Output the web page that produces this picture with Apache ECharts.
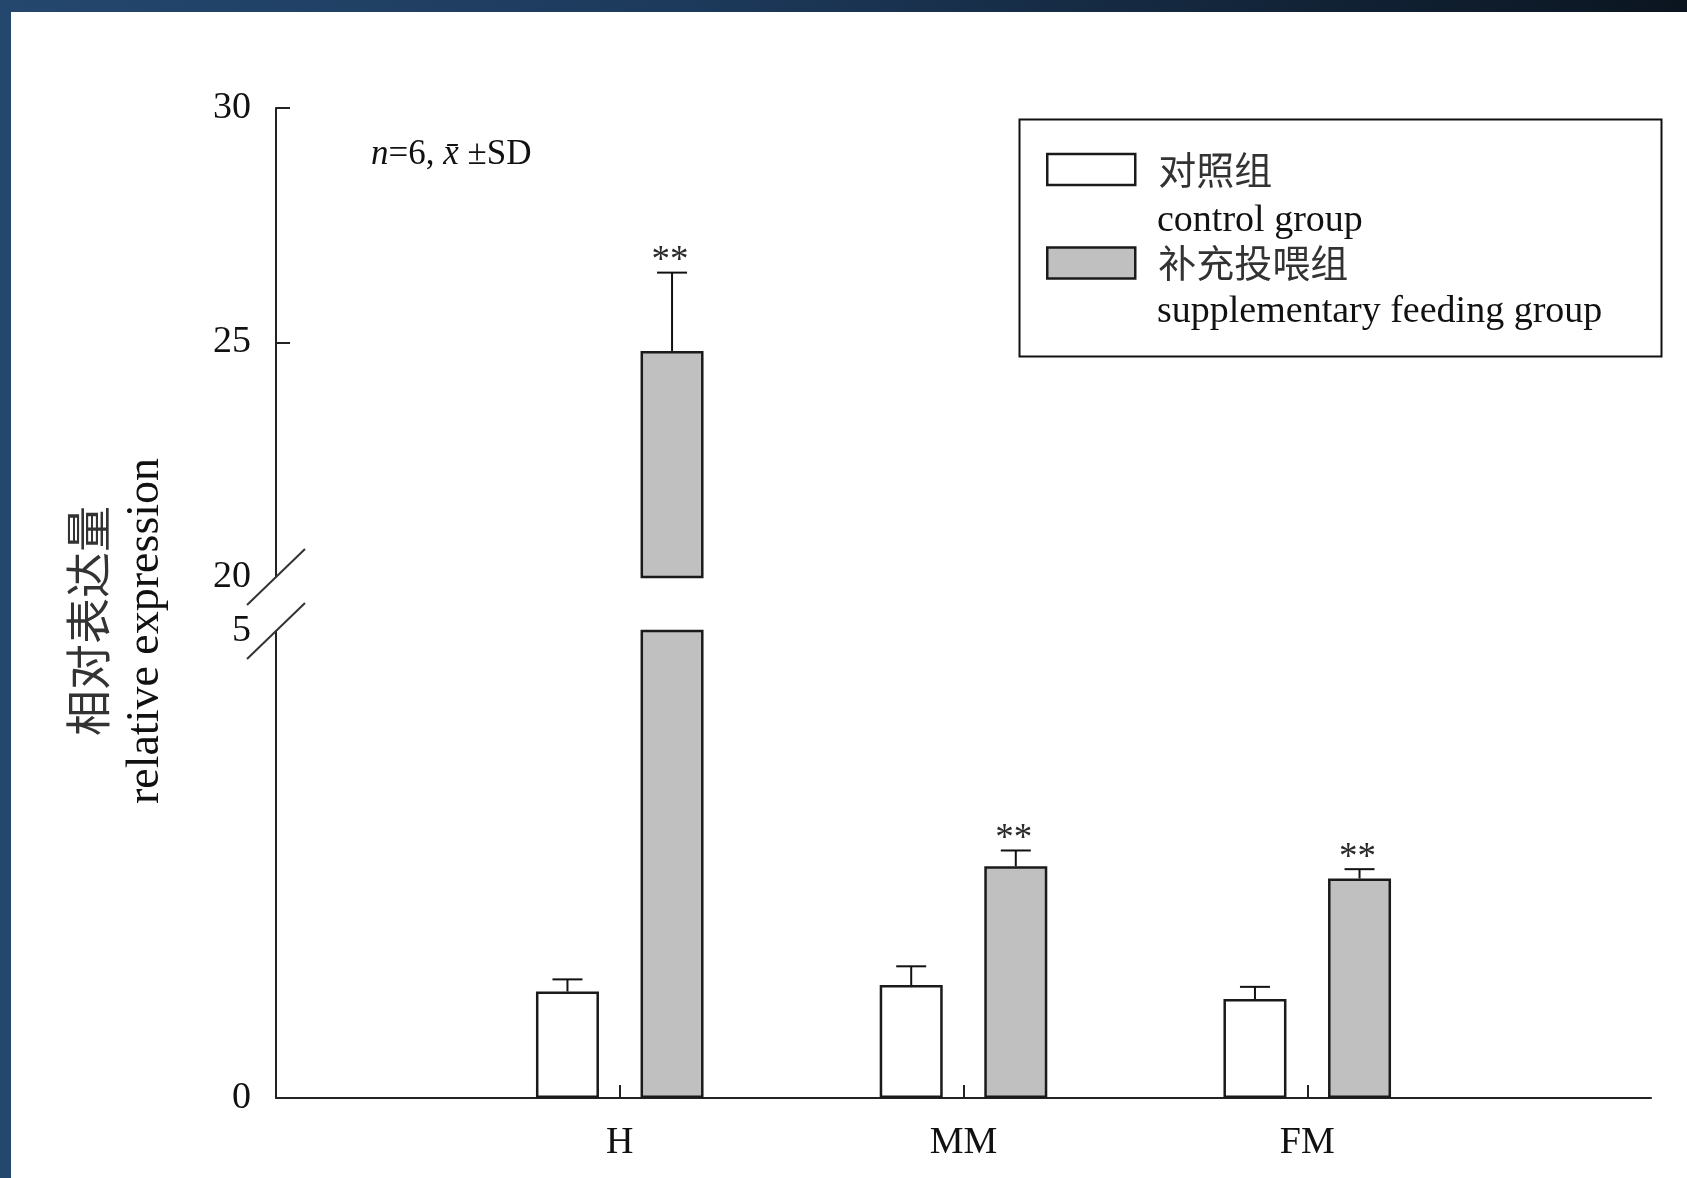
<!DOCTYPE html>
<html>
<head>
<meta charset="utf-8">
<script src="https://cdn.jsdelivr.net/npm/echarts@6/dist/echarts.min.js"></script>
<style>
html, body { margin: 0; padding: 0; background: #ffffff; }
#chart { position: absolute; left: 0; top: 0; width: 1687px; height: 1178px; }
#bandTop { position: absolute; left: 0; top: 0; width: 1687px; height: 12px; z-index: 2;
  background: linear-gradient(90deg, #24476e 0%, #1d3a5c 40%, #0b1520 100%); }
#bandLeft { position: absolute; left: 0; top: 0; width: 11px; height: 1178px; z-index: 3; background: #24476e; }
</style>
</head>
<body>
<div id="chart"></div>
<div id="bandTop"></div>
<div id="bandLeft"></div>
<script>
// ---- data ----
const categories = ['H', 'MM', 'FM'];
const controlMean = [1.14, 1.21, 1.06];
const controlSD = [0.13, 0.20, 0.13];
const feedingMean = [24.82, 2.48, 2.35];
const feedingSD = [1.67, 0.17, 0.10];
const feedingSig = ['**', '**', '**'];
const controlSig = ['', '', ''];
const upperLabelTicks = [20, 25, 30];
const upperMarkTicks = [25, 30];
const lowerLabelTicks = [0, 5];
const seriesNames = ['对照组', '补充投喂组'];
const seriesNamesEn = ['control group', 'supplementary feeding group'];
const noteText = '{i|n}=6, {i|x\u0304} ±SD';
const yTitleCn = '相对表达量';
const yTitleEn = 'relative expression';

// ---- layout / style constants ----
const GRID_LEFT = 276, GRID_RIGHT = 36;
const UPPER_TOP = 108, UPPER_H = 469;
const LOWER_TOP = 631, LOWER_H = 467;
const UPPER_MIN = 20, UPPER_MAX = 30;
const LOWER_MIN = 0, LOWER_MAX = 5;
const BAR_W = 63, BAR_GAP = 0.66;
const BAR_OFFSET = BAR_W * (1 + BAR_GAP) / 2;
const SERIF = '"Liberation Serif", "Times New Roman", serif';
const CJK = '"Noto Sans CJK SC", sans-serif';
const INK = '#111111';
const fills = ['#ffffff', '#c0c0c0'];

const axisCats = [''].concat(categories, ['']);
const pad = arr => [null].concat(arr, [null]);

const groups = [
  { mean: controlMean, sd: controlSD, sig: controlSig },
  { mean: feedingMean, sd: feedingSD, sig: feedingSig }
];

function errPoints(test) {
  const pts = [], sigs = [];
  groups.forEach((g, gi) => {
    categories.forEach((c, i) => {
      if (test(g.mean[i])) { pts.push([c, g.mean[i], g.sd[i], gi]); sigs.push(g.sig[i]); }
    });
  });
  return { pts, sigs };
}
const upperErr = errPoints(v => v > UPPER_MIN);
const lowerErr = errPoints(v => v <= LOWER_MAX);

function makeErrRender(sigs) {
  return function (params, api) {
    const cat = api.value(0), mean = api.value(1), sd = api.value(2), gi = api.value(3);
    const base = api.coord([cat, mean]);
    const top = api.coord([cat, mean + sd]);
    const x = base[0] + (gi === 0 ? -BAR_OFFSET : BAR_OFFSET);
    const children = [
      { type: 'line', shape: { x1: x, y1: base[1], x2: x, y2: top[1] }, style: { stroke: INK, lineWidth: 2 } },
      { type: 'line', shape: { x1: x - 15, y1: top[1], x2: x + 15, y2: top[1] }, style: { stroke: INK, lineWidth: 2 } }
    ];
    const s = sigs[params.dataIndex];
    if (s) {
      children.push({ type: 'text', x: x - 2, y: top[1] - 11,
        style: { text: s, font: '37px ' + SERIF, fill: '#2a2a2a', align: 'center', verticalAlign: 'middle' } });
    }
    return { type: 'group', children };
  };
}

function barSeries(gi, axisIdx, data) {
  return {
    type: 'bar', name: seriesNames[gi], xAxisIndex: axisIdx, yAxisIndex: axisIdx,
    data: data, barWidth: BAR_W, barGap: (BAR_GAP * 100) + '%', clip: true,
    itemStyle: { color: fills[gi], borderColor: '#1a1a1a', borderWidth: 2.5 },
    emphasis: { disabled: true }, animation: false
  };
}

const axisLineStyle = { color: '#222', width: 2 };
const tickLabel = { color: INK, fontFamily: SERIF, fontSize: 38 };
const yTickLabel = { color: INK, fontFamily: SERIF, fontSize: 38, lineHeight: 38, padding: [10, 0, 0, 0] };
const chart = echarts.init(document.getElementById('chart'), null, { renderer: 'canvas' });

const option = {
  backgroundColor: '#ffffff',
  animation: false,
  grid: [
    { left: GRID_LEFT, right: GRID_RIGHT, top: UPPER_TOP, height: UPPER_H },
    { left: GRID_LEFT, right: GRID_RIGHT, top: LOWER_TOP, height: LOWER_H }
  ],
  xAxis: [
    { type: 'category', gridIndex: 0, data: axisCats, boundaryGap: false, show: false },
    { type: 'category', gridIndex: 1, data: axisCats, boundaryGap: false,
      axisLine: { show: true, lineStyle: axisLineStyle },
      axisTick: { show: true, inside: true, length: 13, lineStyle: { color: '#222', width: 2 },
        interval: (idx, val) => val !== '' },
      axisLabel: Object.assign({ interval: 0, margin: 26 }, tickLabel),
      splitLine: { show: false } }
  ],
  yAxis: [
    { type: 'value', gridIndex: 0, min: UPPER_MIN, max: UPPER_MAX, interval: 5,
      axisLine: { show: true, lineStyle: axisLineStyle },
      axisTick: { show: true, inside: true, length: 14, lineStyle: { color: '#222', width: 2 }, customValues: upperMarkTicks },
      axisLabel: Object.assign({ customValues: upperLabelTicks, margin: 25 }, yTickLabel),
      splitLine: { show: false } },
    { type: 'value', gridIndex: 1, min: LOWER_MIN, max: LOWER_MAX, interval: 5,
      axisLine: { show: true, lineStyle: axisLineStyle },
      axisTick: { show: false },
      axisLabel: Object.assign({ customValues: lowerLabelTicks, margin: 25 }, yTickLabel),
      splitLine: { show: false } }
  ],
  legend: {
    orient: 'vertical', left: 1046, top: 149.5, padding: 0,
    itemWidth: 88, itemHeight: 31, itemGap: 53.5, icon: 'rect',
    data: seriesNames,
    selectedMode: false,
    itemStyle: { borderColor: '#1a1a1a', borderWidth: 2.5 },
    textStyle: { fontFamily: CJK, fontSize: 38, lineHeight: 40, color: '#333', padding: [0, 0, 0, 18] }
  },
  series: [
    barSeries(0, 1, pad(controlMean)),
    barSeries(1, 1, pad(feedingMean)),
    barSeries(0, 0, pad(controlMean.map(v => v > UPPER_MIN ? v : null))),
    barSeries(1, 0, pad(feedingMean.map(v => v > UPPER_MIN ? v : null))),
    { type: 'custom', xAxisIndex: 1, yAxisIndex: 1, data: lowerErr.pts, renderItem: makeErrRender(lowerErr.sigs),
      z: 5, silent: true, animation: false },
    { type: 'custom', xAxisIndex: 0, yAxisIndex: 0, data: upperErr.pts, renderItem: makeErrRender(upperErr.sigs),
      z: 5, silent: true, animation: false }
  ]
};
chart.setOption(option);

// axis-break marks and texts
const y20 = chart.convertToPixel({ yAxisIndex: 0 }, UPPER_MIN);
const y5 = chart.convertToPixel({ yAxisIndex: 1 }, LOWER_MAX);
const slash = (cy) => ({ type: 'line', z: 10, silent: true,
  shape: { x1: GRID_LEFT - 29, y1: cy + 28, x2: GRID_LEFT + 29, y2: cy - 28 },
  style: { stroke: '#333', lineWidth: 2 } });
const enLegend = (txt, y) => ({ type: 'text', silent: true, x: 1157, y: y,
  style: { text: txt, font: '38px ' + SERIF, fill: INK, align: 'left', verticalAlign: 'middle' } });

chart.setOption({
  graphic: [
    slash(y20), slash(y5),
    { type: 'rect', silent: true, z: 1, shape: { x: 1019.5, y: 119.5, width: 642, height: 237 },
      style: { fill: 'none', stroke: '#111', lineWidth: 2 } },
    enLegend(seriesNamesEn[0], 221),
    enLegend(seriesNamesEn[1], 312),
    { type: 'text', silent: true, x: 371, y: 155,
      style: { text: noteText, font: '35px ' + SERIF, fill: INK, align: 'left', verticalAlign: 'middle',
        rich: { i: { fontStyle: 'italic', fontFamily: SERIF, fontSize: 35 } } } },
    { type: 'text', silent: true, x: 88, y: 621, rotation: Math.PI / 2,
      style: { text: yTitleCn, font: '46px ' + CJK, fill: '#333', align: 'center', verticalAlign: 'middle' } },
    { type: 'text', silent: true, x: 146, y: 631, rotation: Math.PI / 2,
      style: { text: yTitleEn, font: '46px ' + SERIF, fill: INK, align: 'center', verticalAlign: 'middle' } }
  ]
});
</script>
</body>
</html>
